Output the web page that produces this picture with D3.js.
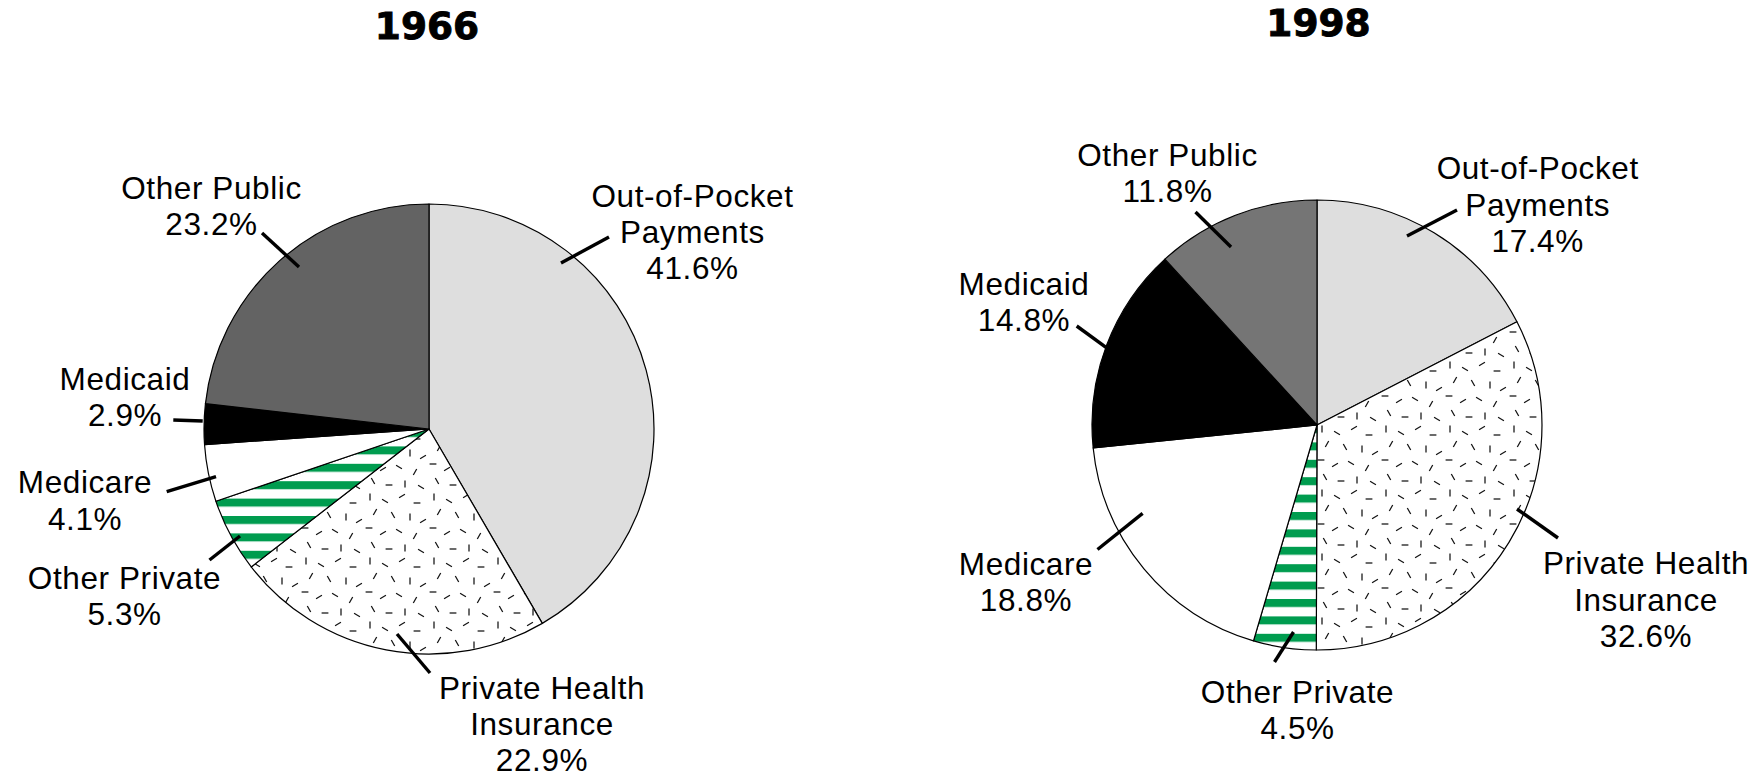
<!DOCTYPE html>
<html>
<head>
<meta charset="utf-8">
<script src="https://cdn.jsdelivr.net/npm/d3@7/dist/d3.min.js"></script>
<style>
  html, body { margin: 0; padding: 0; background: #fff; }
  svg { display: block; }
</style>
</head>
<body>
<svg id="chart" width="1764" height="779"></svg>
<script>
// ---------------- DATA ----------------
const years = ["1966", "1998"];
const categories = ["Out-of-Pocket Payments", "Private Health Insurance", "Other Private",
                    "Medicare", "Medicaid", "Other Public"];
const labelLines = [["Out-of-Pocket", "Payments"], ["Private Health", "Insurance"], ["Other Private"],
                    ["Medicare"], ["Medicaid"], ["Other Public"]];
const values1966 = [41.6, 22.9, 5.3, 4.1, 2.9, 23.2];
const values1998 = [17.4, 32.6, 4.5, 18.8, 14.8, 11.8];
const seriesValues = [values1966, values1998];

// ---------------- LAYOUT / STYLE ----------------
const W = 1764, H = 779;
const radius = 225;
const lineGap = 36.3;
const pieCenters = [[429, 429], [1317, 425]];
const titleOffsets = [[-2, -390], [1.5, -389.5]];
const otherPublicFill = ["#636363", "#757575"];
// per chart, per category: [text dx, first baseline dy, leader x1, y1, x2, y2] relative to pie centre
const labelLayout = [
  [
    [263.5, -222.3, 132, -166, 180, -192],
    [113, 269.5, -32, 205, 1, 244],
    [-304.5, 160, -219.5, 131, -189, 107],
    [-344, 64.3, -262.3, 62.7, -213, 47.7],
    [-304, -39, -255.7, -9, -226.3, -8],
    [-217.5, -230, -167, -196, -130, -162]
  ],
  [
    [220.7, -245.8, 90, -189, 140, -215],
    [329, 149.3, 200, 84, 241, 113],
    [-19.5, 277.7, -42.5, 237, -23.5, 207],
    [-291, 150, -219.5, 124.5, -174.4, 88.4],
    [-293, -130, -240.3, -99, -211, -77.7],
    [-149.5, -259.2, -121.5, -213, -86, -178]
  ]
];
// fixed texture dashes for the private-insurance pattern: [x, y, angle]
const dashTile = [[5,4,90],[20,8,30],[37,3,150],[52,10,0],[10,19,120],[28,22,60],[45,24,90],[58,28,150],
                  [4,35,0],[18,40,150],[34,38,30],[50,43,120],[8,52,60],[24,56,0],[40,55,90],[56,58,30]];

const svg = d3.select("#chart");
const defs = svg.append("defs");

// stripe pattern (green horizontal)
const stripe = defs.append("pattern").attr("id", "stripe")
  .attr("patternUnits", "userSpaceOnUse").attr("width", 20).attr("height", 17.4);
stripe.append("rect").attr("width", 20).attr("height", 17.4).attr("fill", "#fff");
stripe.append("rect").attr("y", 0).attr("width", 20).attr("height", 8).attr("fill", "#009c4f");

// dash pattern
const dash = defs.append("pattern").attr("id", "dash")
  .attr("patternUnits", "userSpaceOnUse").attr("width", 64).attr("height", 64);
dash.append("rect").attr("width", 64).attr("height", 64).attr("fill", "#fff");
const half = 3.4;
dash.selectAll("line").data(dashTile).join("line")
  .attr("x1", d => d[0] - half * Math.cos(d[2] * Math.PI / 180))
  .attr("y1", d => d[1] - half * Math.sin(d[2] * Math.PI / 180))
  .attr("x2", d => d[0] + half * Math.cos(d[2] * Math.PI / 180))
  .attr("y2", d => d[1] + half * Math.sin(d[2] * Math.PI / 180))
  .attr("stroke", "#111").attr("stroke-width", 1.25);

const pie = d3.pie().sort(null).value(d => d).startAngle(0).endAngle(2 * Math.PI);
const arc = d3.arc().innerRadius(0).outerRadius(radius);
const fmt = v => d3.format(".1f")(v) + "%";
const labelFont = "'Liberation Sans', Arial, Helvetica, sans-serif";

years.forEach((yr, i) => {
  const [cx, cy] = pieCenters[i];
  const g = svg.append("g").attr("transform", `translate(${cx},${cy})`);
  const fills = ["#dedede", "url(#dash)", "url(#stripe)", "#fff", "#000", otherPublicFill[i]];

  // title
  g.append("text")
    .attr("x", titleOffsets[i][0]).attr("y", titleOffsets[i][1])
    .attr("text-anchor", "middle")
    .attr("font-family", "'DejaVu Sans', sans-serif")
    .attr("font-weight", "bold")
    .attr("font-size", 37.5)
    .attr("fill", "#000")
    .attr("stroke", "#000")
    .attr("stroke-width", 0.9)
    .text(yr);

  // slices
  g.selectAll("path.slice").data(pie(seriesValues[i])).join("path")
    .attr("class", "slice")
    .attr("d", arc)
    .attr("fill", (d, j) => fills[j])
    .attr("stroke", "#000")
    .attr("stroke-width", 1.2)
    .attr("stroke-linejoin", "round");

  // labels + leaders
  const lay = labelLayout[i];
  categories.forEach((c, j) => {
    const L = lay[j];
    g.append("line")
      .attr("x1", L[2]).attr("y1", L[3]).attr("x2", L[4]).attr("y2", L[5])
      .attr("stroke", "#000").attr("stroke-width", 3.4);
    const lines = labelLines[j].concat([fmt(seriesValues[i][j])]);
    const t = g.append("text")
      .attr("text-anchor", "middle")
      .attr("font-family", labelFont)
      .attr("font-size", 31.5)
      .attr("letter-spacing", "0.6px")
      .attr("fill", "#000");
    lines.forEach((s, k) => {
      t.append("tspan").attr("x", L[0]).attr("y", L[1] + k * lineGap).text(s);
    });
  });
});
</script>
</body>
</html>
